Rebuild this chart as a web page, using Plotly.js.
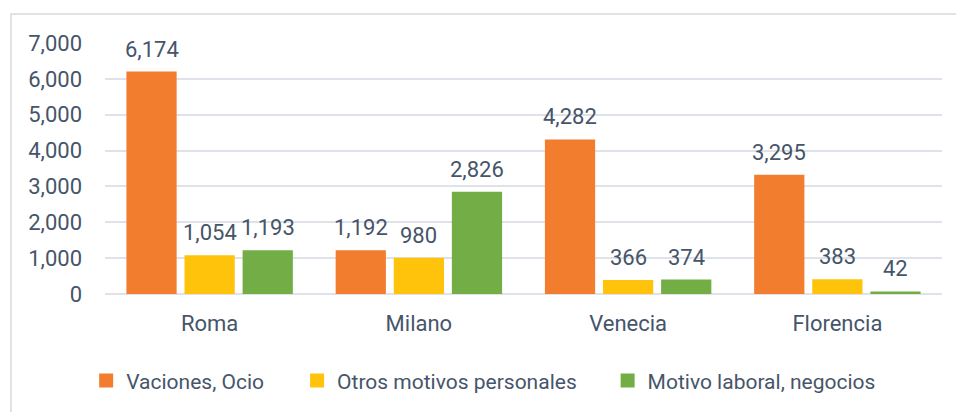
<!DOCTYPE html>
<html><head><meta charset="utf-8">
<script src="https://cdn.plot.ly/plotly-3.0.1.min.js"></script>
<style>html,body{margin:0;padding:0;background:#fff;}#chart{width:956px;height:412px;}</style>
</head><body><div id="chart"></div>
<script>
const categories = ["Roma", "Milano", "Venecia", "Florencia"];
const seriesNames = ["Vaciones, Ocio", "Otros motivos personales", "Motivo laboral, negocios"];
const vacaciones = [6174, 1192, 4282, 3295];
const otros = [1054, 980, 366, 383];
const laboral = [1193, 2826, 374, 42];
const tickVals = [0, 1000, 2000, 3000, 4000, 5000, 6000, 7000];
const tickText = ["0", "1,000", "2,000", "3,000", "4,000", "5,000", "6,000", "7,000"];

const colors = ["#F27D2E", "#FFC30C", "#72AE45"];
const txtColor = "#465569";
const fontFam = "Roboto, sans-serif";
const fmt = v => v.toLocaleString("en-US");
const allSeries = [vacaciones, otros, laboral];
const legendIds = ["legend", "legend2", "legend3"];

const data = allSeries.map((vals, i) => ({
  type: "bar",
  name: seriesNames[i],
  x: categories,
  y: vals,
  legend: legendIds[i],
  marker: {color: colors[i], line: {color: colors[i], width: 2}},
  hoverinfo: "none"
}));

// data labels above bars
const offsets = [-58, 0, 58];
const annotations = [];
allSeries.forEach((vals, i) => {
  vals.forEach((v, j) => {
    annotations.push({
      x: categories[j], y: v, xref: "x", yref: "y",
      text: fmt(v), showarrow: false,
      xshift: offsets[i], yshift: 9, yanchor: "bottom",
      font: {family: fontFam, size: 22, color: txtColor}
    });
  });
});

const legendBase = {
  orientation: "h", xref: "paper", yref: "paper",
  xanchor: "left", y: -0.341, yanchor: "middle",
  font: {family: fontFam, size: 21, color: txtColor},
  bgcolor: "rgba(0,0,0,0)", borderwidth: 0
};

const layout = {
  width: 956, height: 412,
  margin: {l: 105, r: 14, t: 43, b: 117},
  paper_bgcolor: "#fff", plot_bgcolor: "#fff",
  barmode: "group",
  bargap: 0.167,
  bargroupgap: 0.17,
  font: {family: fontFam, color: txtColor},
  xaxis: {
    showgrid: false, zeroline: false, showline: false,
    tickfont: {family: fontFam, size: 22, color: txtColor},
    ticks: "", ticklabelstandoff: 14
  },
  yaxis: {
    range: [0, 7000], tickvals: tickVals, ticktext: tickText,
    showgrid: true, gridcolor: "#DFE2E8", gridwidth: 2,
    zeroline: true, zerolinecolor: "#DFE2E8", zerolinewidth: 2,
    showline: false, ticks: "", ticklabelstandoff: 22,
    tickfont: {family: fontFam, size: 22, color: txtColor}
  },
  showlegend: true,
  legend: Object.assign({}, legendBase, {x: -0.0225}),
  legend2: Object.assign({}, legendBase, {x: 0.2295}),
  legend3: Object.assign({}, legendBase, {x: 0.6005}),
  annotations: annotations,
  shapes: [{
    type: "rect", xref: "paper", yref: "paper",
    x0: (11 - 105) / 837, x1: (970 - 105) / 837,
    y0: (295 - 430) / 252, y1: (295 - 14) / 252,
    line: {color: "#D9D9D9", width: 1.5}, fillcolor: "rgba(0,0,0,0)", layer: "below"
  }]
};

Plotly.newPlot("chart", data, layout, {displayModeBar: false, staticPlot: true});
</script>
</body></html>
